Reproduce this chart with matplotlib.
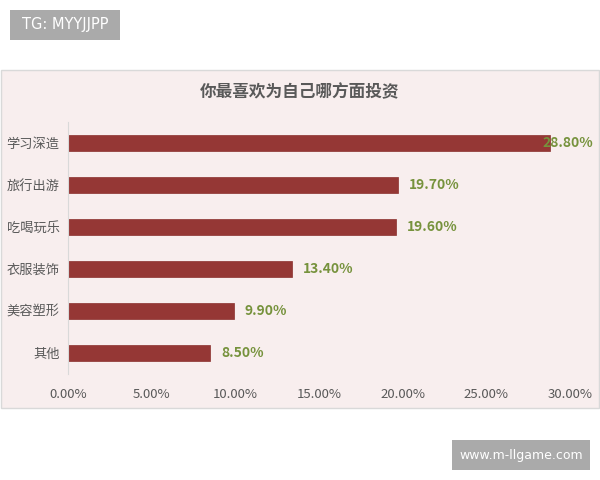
import matplotlib
matplotlib.use("Agg")
import matplotlib.pyplot as plt
from matplotlib.patches import Rectangle
from matplotlib.ticker import FuncFormatter

plt.rcParams['font.family'] = ['Noto Sans CJK SC', 'DejaVu Sans']

# data, top to bottom as in the picture
categories = ["学习深造", "旅行出游", "吃喝玩乐", "衣服装饰", "美容塑形", "其他"]
values = [28.8, 19.7, 19.6, 13.4, 9.9, 8.5]
ticks = [0, 5, 10, 15, 20, 25, 30]
title = "你最喜欢为自己哪方面投资"

bar_color = "#953735"
label_color = "#76923C"
text_gray = "#595959"

fig = plt.figure(figsize=(6, 4.8), dpi=100)
fig.patch.set_facecolor("white")

# pink chart box (kept behind the axes)
fig.patches.append(Rectangle((0.5 / 600, 1 - 408 / 480), 598 / 600, 338 / 480,
                             transform=fig.transFigure, facecolor="#F8EEEE",
                             edgecolor="#D9D9D9", linewidth=1, zorder=-5))

# grey watermark boxes
fig.patches.append(Rectangle((10 / 600, 1 - 40 / 480), 110 / 600, 30 / 480,
                             transform=fig.transFigure, facecolor="#AAAAAA",
                             edgecolor="none", zorder=-5))
fig.text(65 / 600, 1 - 25 / 480, "TG: MYYJJPP", color="white", fontsize=10.5,
         ha="center", va="center", family="DejaVu Sans")
fig.patches.append(Rectangle((452 / 600, 1 - 470 / 480), 138 / 600, 30 / 480,
                             transform=fig.transFigure, facecolor="#AAAAAA",
                             edgecolor="none", zorder=-5))
fig.text(521 / 600, 1 - 455 / 480, "www.m-llgame.com", color="white", fontsize=9,
         ha="center", va="center", family="DejaVu Sans")

fig.text(300 / 600, 1 - 92 / 480, title, color=text_gray, fontsize=12,
         fontweight="bold", ha="center", va="center")

ax = fig.add_axes([68 / 600, 1 - 374 / 480, 502 / 600, 252 / 480])
ax.set_facecolor("none")

y = list(range(len(categories)))
ax.barh(y, values, height=0.38, color=bar_color, edgecolor="#8A2F2D", linewidth=0.5)
ax.set_ylim(len(categories) - 0.5, -0.5)
ax.set_xlim(0, 30)
ax.set_yticks(y)
ax.set_yticklabels(categories, color=text_gray, fontsize=9.5)
ax.set_xticks(ticks)
ax.xaxis.set_major_formatter(FuncFormatter(lambda v, p: "%.2f%%" % v))
ax.tick_params(axis="x", colors=text_gray, labelsize=9.5, length=0, pad=10)
ax.tick_params(axis="y", length=0, pad=6)

for s in ["top", "right", "bottom"]:
    ax.spines[s].set_visible(False)
ax.spines["left"].set_color("#D9D9D9")

for i, v in enumerate(values):
    # the longest label is pushed back onto the bar end, like the original
    dx = -5 if v == max(values) else 8
    ax.annotate("%.2f%%" % v, (v, i), xytext=(dx, 0), textcoords="offset points",
                ha="left", va="center", color=label_color, fontsize=10,
                fontweight="bold")

fig.savefig("out.png", dpi=100)
